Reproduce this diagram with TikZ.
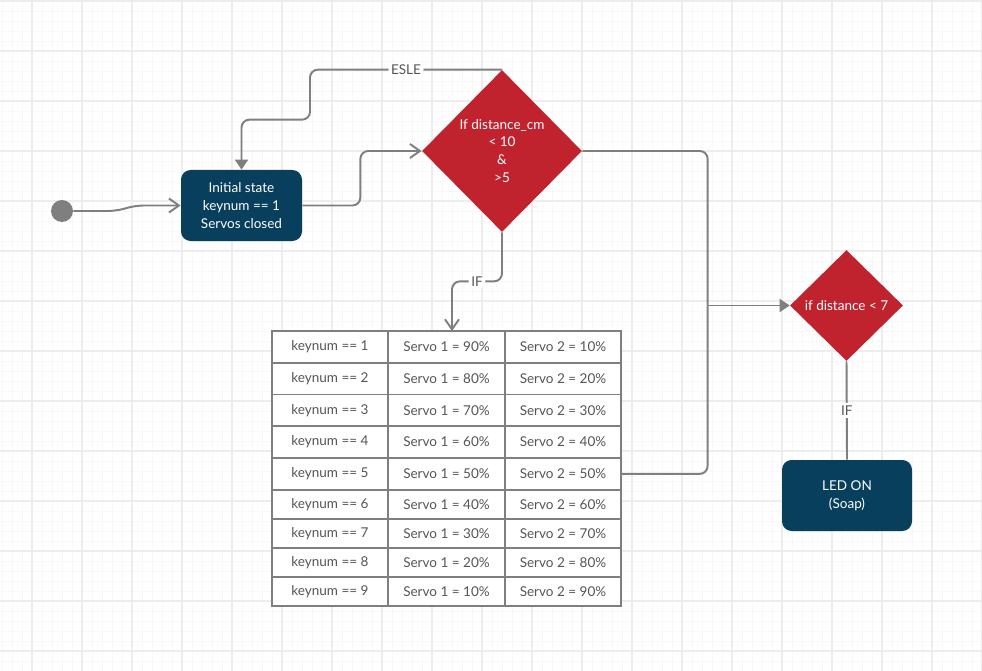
\documentclass[tikz,border=0pt]{standalone}
\usepackage{fontspec}
\setmainfont{Lato}
\usetikzlibrary{arrows.meta, positioning, shapes.geometric}
\definecolor{flownavy}{RGB}{8,63,92}
\definecolor{flowred}{RGB}{192,35,46}
\definecolor{flowgray}{RGB}{127,127,127}
\definecolor{flowtext}{RGB}{85,85,85}
\definecolor{gridmajor}{RGB}{237,237,237}
\definecolor{gridminor}{RGB}{248,248,248}

\begin{document}
\begin{tikzpicture}[
  state/.style={rectangle, rounded corners=5.5pt, fill=flownavy, text=white,
                minimum width=2.42cm, minimum height=1.42cm, align=center, inner sep=0pt},
  cond/.style={diamond, fill=flowred, text=white, align=center, inner sep=0pt},
  cell/.style={rectangle, draw=flowgray, line width=1.1pt, fill=white, text=flowtext,
               minimum width=2.33cm, minimum height=0.635cm, inner sep=0pt, outer sep=0pt},
  cellsm/.style={cell, minimum height=0.58cm},
  startdot/.style={circle, fill=flowgray, minimum size=0.44cm, inner sep=0pt},
  line/.style={draw=flowgray, line width=1.1pt, rounded corners=4.5pt},
  arr/.style={line, -{Straight Barb[length=2mm, width=2.8mm]}},
  farr/.style={line, -{Triangle[length=2mm, width=2.6mm]}},
  lbl/.style={fill=white, text=flowtext, inner sep=1.5pt},
  every node/.style={font=\fontsize{7.7}{10.2}\selectfont}
]
  \useasboundingbox (0,0) rectangle (19.64,-13.4);

  %% --- Background grid ---
  \fill[white] (0,0) rectangle (19.64,-13.4);
  \begin{scope}
    \clip (0,0) rectangle (19.64,-13.4);
    \draw[gridminor, line width=0.5pt, step=0.2cm, shift={(0.04,-0.02)}] (-0.4,-14) grid (20,0.4);
    \draw[gridmajor, line width=1.1pt, step=1cm, shift={(0.64,-0.02)}] (-1,-14) grid (20,1);
  \end{scope}

  %% --- Start and states ---
  \node[startdot] (start) at (1.24,-4.22) {};
  \node[state] (init) at (4.83,-4.11) {Initial state\\keynum == 1\\Servos closed};
  \node[state, minimum width=2.6cm] (led) at (16.94,-9.91) {LED ON\\(Soap)};

  %% --- Decisions ---
  \node[cond, minimum width=3.2cm, minimum height=3.24cm]
    (check) at (10.04,-3.02) {If distance\_cm\\< 10\\\&\\>5};
  \node[cond, minimum width=2.26cm, minimum height=2.22cm]
    (near) at (16.93,-6.11) {if distance < 7};

  %% --- Servo table ---
  \node[cell] (k1)  at (6.6,-6.9375)  {keynum == 1};
  \node[cell] (sa1) at (8.93,-6.9375) {Servo 1 = 90\%};
  \node[cell] (sb1) at (11.26,-6.9375) {Servo 2 = 10\%};

  \node[cell] (k2)  at (6.6,-7.5725)  {keynum == 2};
  \node[cell] (sa2) at (8.93,-7.5725) {Servo 1 = 80\%};
  \node[cell] (sb2) at (11.26,-7.5725) {Servo 2 = 20\%};

  \node[cell] (k3)  at (6.6,-8.2075)  {keynum == 3};
  \node[cell] (sa3) at (8.93,-8.2075) {Servo 1 = 70\%};
  \node[cell] (sb3) at (11.26,-8.2075) {Servo 2 = 30\%};

  \node[cell] (k4)  at (6.6,-8.8425)  {keynum == 4};
  \node[cell] (sa4) at (8.93,-8.8425) {Servo 1 = 60\%};
  \node[cell] (sb4) at (11.26,-8.8425) {Servo 2 = 40\%};

  \node[cell] (k5)  at (6.6,-9.4775)  {keynum == 5};
  \node[cell] (sa5) at (8.93,-9.4775) {Servo 1 = 50\%};
  \node[cell] (sb5) at (11.26,-9.4775) {Servo 2 = 50\%};

  \node[cellsm] (k6)  at (6.6,-10.085)  {keynum == 6};
  \node[cellsm] (sa6) at (8.93,-10.085) {Servo 1 = 40\%};
  \node[cellsm] (sb6) at (11.26,-10.085) {Servo 2 = 60\%};

  \node[cellsm] (k7)  at (6.6,-10.665)  {keynum == 7};
  \node[cellsm] (sa7) at (8.93,-10.665) {Servo 1 = 30\%};
  \node[cellsm] (sb7) at (11.26,-10.665) {Servo 2 = 70\%};

  \node[cellsm] (k8)  at (6.6,-11.245)  {keynum == 8};
  \node[cellsm] (sa8) at (8.93,-11.245) {Servo 1 = 20\%};
  \node[cellsm] (sb8) at (11.26,-11.245) {Servo 2 = 80\%};

  \node[cellsm] (k9)  at (6.6,-11.825)  {keynum == 9};
  \node[cellsm] (sa9) at (8.93,-11.825) {Servo 1 = 10\%};
  \node[cellsm] (sb9) at (11.26,-11.825) {Servo 2 = 90\%};

  %% --- Connectors ---
  \draw[arr] (start.east) -- ++(0.85,0) -- ++(0.4,0.11) -- (init.west);
  \draw[arr] (init.east) -- ++(1.16,0) |- (check.west);

  %% else: back to the initial state
  \draw[farr] (check.north) -- node[lbl]{ESLE} ++(-3.84,0)
    -- ++(0,-1.0) -| (init.north);

  %% if: into the table
  \draw[arr] (check.south) -- ++(0,-0.98)
    -| node[lbl, pos=0.25]{IF} ([xshift=0.11cm]sa1.north);

  %% both branches meet before the second check
  \coordinate (jn) at ([xshift=-1.64cm]near.west);
  \draw[line] (check.east) -| (jn);
  \draw[line] (sb5.east) -| (jn);
  \draw[farr] (jn) -- (near.west);

  \draw[line] (near.south) -- node[lbl]{IF} (led.north);

\end{tikzpicture}
\end{document}
